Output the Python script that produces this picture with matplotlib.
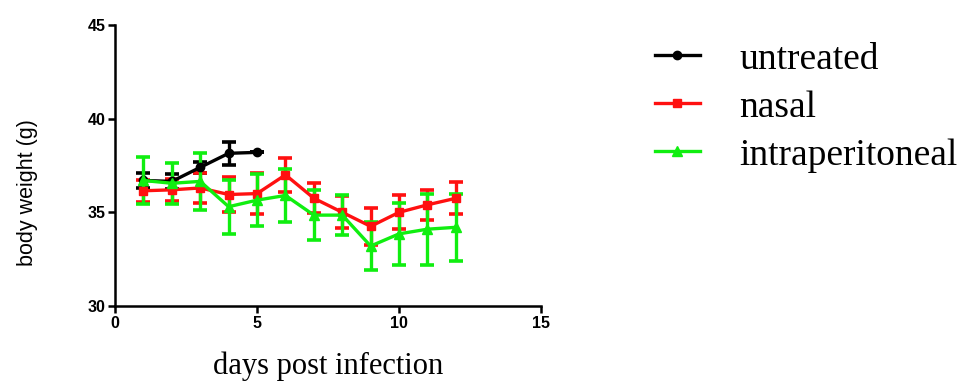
import matplotlib
matplotlib.use("Agg")
from matplotlib import pyplot as plt


days_untreated = [1, 2, 3, 4, 5]
untreated = [36.7, 36.65, 37.4, 38.15, 38.2]
untreated_err = [0.4, 0.4, 0.3, 0.6, 0.0]

days = [1, 2, 3, 4, 5, 6, 7, 8, 9, 10, 11, 12]
nasal = [36.15, 36.2, 36.3, 35.95, 36.0, 37.0, 35.75, 35.0, 34.25, 35.0, 35.4, 35.75]
nasal_err = [0.6, 0.6, 0.8, 0.95, 1.1, 0.9, 0.8, 0.85, 1.0, 0.9, 0.8, 0.85]
ip = [36.7, 36.55, 36.65, 35.3, 35.65, 35.9, 34.85, 34.85, 33.2, 33.85, 34.1, 34.2]
ip_err = [1.25, 1.1, 1.5, 1.45, 1.4, 1.4, 1.35, 1.05, 1.3, 1.65, 1.9, 1.8]

fig = plt.figure(figsize=(9.67, 3.82), dpi=100)
ax = fig.add_axes([0.119, 0.199, 0.4405, 0.7356])

style = dict(linewidth=2.4, elinewidth=2.4, capsize=5, capthick=2.6)
ax.errorbar(days_untreated, untreated, yerr=untreated_err, color='black',
            marker='o', markersize=6, label='untreated', **style)
ax.errorbar(days, nasal, yerr=nasal_err, color='#ff1010',
            marker='s', markersize=6, label='nasal', **style)
ax.errorbar(days, ip, yerr=ip_err, color='#10ee10',
            marker='^', markersize=7, label='intraperitoneal', **style)

ax.set_xlim(0, 15)
ax.set_ylim(30, 45)
ax.set_xticks([0, 5, 10, 15])
ax.set_yticks([30, 35, 40, 45])
ax.spines['top'].set_visible(False)
ax.spines['right'].set_visible(False)
for s in ('left', 'bottom'):
    ax.spines[s].set_linewidth(1.8)
ax.tick_params(direction='out', length=5, width=1.8, pad=2)
for lab in ax.get_xticklabels() + ax.get_yticklabels():
    lab.set_family('Liberation Sans')
    lab.set_fontweight('bold')
    lab.set_fontsize(11.5)

ax.set_ylabel('body weight (g)', family='Liberation Sans', fontsize=15.5)
ax.yaxis.set_label_coords(-0.18, 0.405)
ax.set_xlabel('days post infection', family='Liberation Serif', fontsize=22, labelpad=15)

handles, labels = ax.get_legend_handles_labels()
handles = [h[0] for h in handles]
fig.legend(handles, labels, loc='upper left', bbox_to_anchor=(0.677, 0.89),
           frameon=False, prop={'family': 'Liberation Serif', 'size': 27},
           handlelength=1.2, labelspacing=0.36, handletextpad=1.05,
           borderpad=0, borderaxespad=0)

fig.savefig('out.png', dpi=100)
